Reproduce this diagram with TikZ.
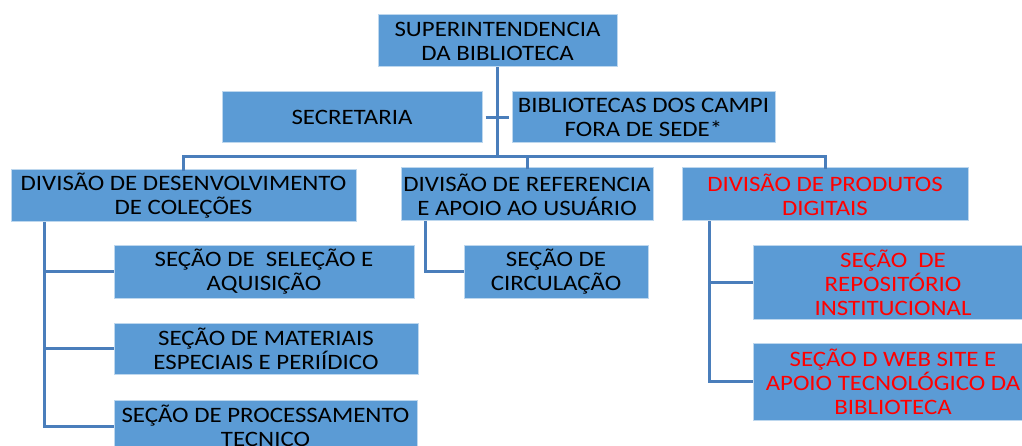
\documentclass[tikz,border=0pt]{standalone}
\usepackage{fontspec}
\setmainfont{Carlito}[FakeStretch=1.13]
\definecolor{boxblue}{HTML}{5B9BD5}
\definecolor{boxedge}{HTML}{BDD7EE}
\definecolor{linkblue}{HTML}{4A7EBB}
\definecolor{redtext}{HTML}{FF0000}
\begin{document}
\begin{tikzpicture}[x=1pt,y=-1pt,
  unit/.style={draw=boxedge,line width=1pt,fill=boxblue,inner sep=0pt,align=center,
    font=\fontsize{22}{24}\selectfont,text=black},
  redunit/.style={unit,text=redtext},
  link/.style={draw=linkblue,line width=3pt}]
\useasboundingbox (0,0) rectangle (1022,446);
\clip (0,0) rectangle (1022,446);
\fill[white] (0,0) rectangle (1022,446);

\node[unit,minimum width=239pt,minimum height=52pt] (super) at (497.5,41) {SUPERINTENDENCIA\\DA BIBLIOTECA};
\node[unit,minimum width=260pt,minimum height=51pt] (secr) at (352,117.5) {SECRETARIA};
\node[unit,minimum width=263pt,minimum height=51pt] (campi) at (643.5,117.5) {BIBLIOTECAS DOS CAMPI\\FORA DE SEDE*};

\node[unit,minimum width=345pt,minimum height=52pt] (divdes) at (183.5,196) {DIVISÃO DE DESENVOLVIMENTO\\DE COLEÇÕES};
\node[unit,minimum width=252pt,minimum height=53pt] (divref) at (527,194.5) {DIVISÃO DE REFERENCIA\\E APOIO AO USUÁRIO};
\node[redunit,minimum width=286pt,minimum height=53pt] (divprod) at (825,194.5) {DIVISÃO DE PRODUTOS\\DIGITAIS};

\node[unit,minimum width=300pt,minimum height=52pt] (selec) at (264,272) {SEÇÃO DE\ \ SELEÇÃO E\\AQUISIÇÃO};
\node[unit,minimum width=304pt,minimum height=51pt] (mater) at (266,348.5) {SEÇÃO DE MATERIAIS\\ESPECIAIS E PERIÍDICO};
\node[unit,minimum width=303pt,minimum height=52pt] (proc) at (265.5,426) {SEÇÃO DE PROCESSAMENTO\\TECNICO};

\node[unit,minimum width=184pt,minimum height=52pt] (circ) at (556,272) {SEÇÃO DE\\CIRCULAÇÃO};

\node[redunit,minimum width=280pt,minimum height=73pt] (repos) at (893,282.5) {SEÇÃO\ \ DE\\REPOSITÓRIO\\INSTITUCIONAL};
\node[redunit,minimum width=280pt,minimum height=77pt] (web) at (893,381.5) {SEÇÃO D WEB SITE E\\APOIO TECNOLÓGICO DA\\BIBLIOTECA};

\coordinate (bus) at (0,157);
\coordinate (dd) at ([xshift=34pt]divdes.south west);
\coordinate (dr) at ([xshift=25pt]divref.south west);
\coordinate (dp) at ([xshift=28pt]divprod.south west);

\draw[link] (super.south) -- (super.south |- bus);
\draw[link,shorten <=3pt,shorten >=3pt] (secr.east) -- (campi.west);
\draw[link] ([yshift=-2pt]divdes.north) -- (divdes.north |- bus) -| ([yshift=-2pt]divprod.north);
\draw[link] ([yshift=-2pt]divref.north) -- (divref.north |- bus);

\draw[link] (dd) |- (proc.west);
\draw[link] (dd |- selec.west) -- (selec.west);
\draw[link] (dd |- mater.west) -- (mater.west);

\draw[link] (dr) |- (circ.west);

\draw[link] (dp) |- (web.west);
\draw[link] (dp |- repos.west) -- (repos.west);
\end{tikzpicture}
\end{document}
